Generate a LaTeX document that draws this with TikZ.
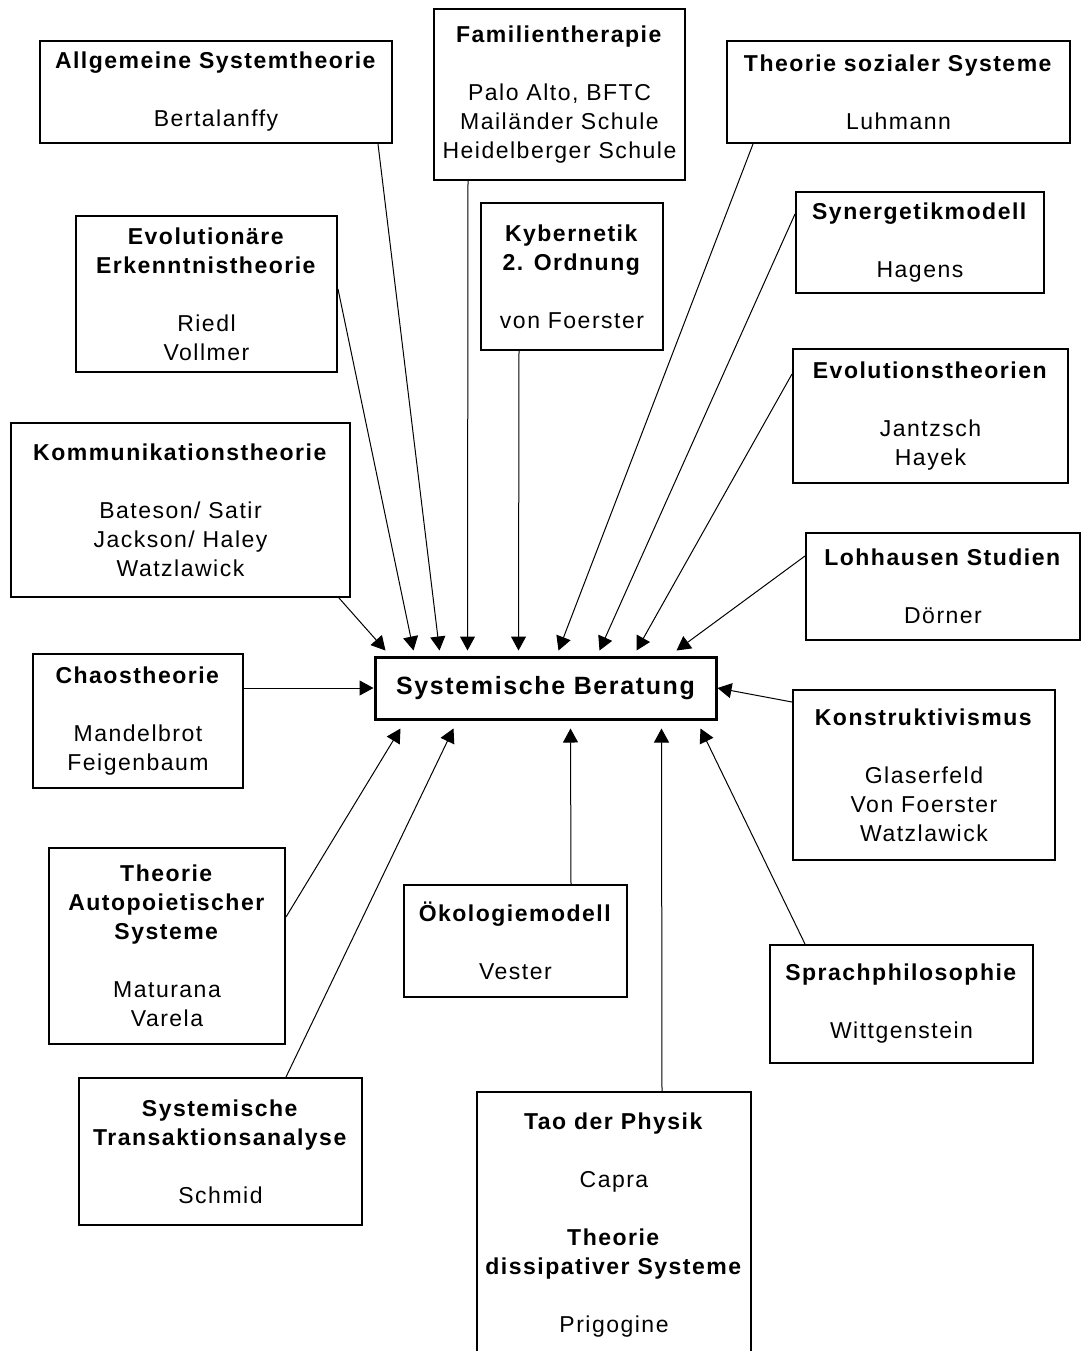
\documentclass[tikz,border=0pt]{standalone}
\usepackage{fontspec}
\setmainfont{Liberation Sans}[LetterSpace=6.5]
\usetikzlibrary{arrows.meta,calc}

\tikzset{
  kasten/.style={draw, line width=1pt, inner sep=0pt, align=center, font=\fontsize{11.5pt}{14.5pt}\selectfont},
  groesse/.style 2 args={minimum width=#1*0.5pt, minimum height=#2*0.5pt},
  mitte/.style={kasten, line width=1.5pt, font=\fontsize{12.5pt}{15pt}\selectfont\bfseries},
  pfeil/.style={line width=0.5pt, -{Triangle[length=7pt,width=7.5pt]}}
}

\begin{document}
\begin{tikzpicture}[x=0.5pt,y=-0.5pt]
\useasboundingbox (0,0) rectangle (1081,1351);

\node[mitte, groesse={341}{62}] (ber) at (545.5,688) {Systemische Beratung}; %centre

%top row
\node[kasten, groesse={352}{102}] (allg) at (216,92) {\textbf{Allgemeine Systemtheorie}\\[14.5pt]Bertalanffy};
\node[kasten, groesse={251}{171}] (fam) at (559.5,94.5) {\textbf{Familientherapie}\\[14.5pt]Palo Alto, BFTC\\Mailänder Schule\\Heidelberger Schule};
\node[kasten, groesse={343}{102}] (sozial) at (898.5,92) {\textbf{Theorie sozialer Systeme}\\[14.5pt]Luhmann};
\node[kasten, groesse={261}{156}] (evo) at (206.5,294) {\textbf{Evolutionäre}\\\textbf{Erkenntnistheorie}\\[14.5pt]Riedl\\Vollmer};
\node[kasten, groesse={182}{147}] (kyb) at (572,276.5) {\textbf{Kybernetik}\\\textbf{2. Ordnung}\\[14.5pt]von Foerster};
\node[kasten, groesse={248}{101}] (syn) at (920,242.5) {\textbf{Synergetikmodell}\\[14.5pt]Hagens};
\node[kasten, groesse={275}{134}] (evth) at (930.5,416) {\textbf{Evolutionstheorien}\\[14.5pt]Jantzsch\\Hayek};
\node[kasten, groesse={339}{174}] (komm) at (180.5,510) {\textbf{Kommunikationstheorie}\\[14.5pt]Bateson/ Satir\\Jackson/ Haley\\Watzlawick};
\node[kasten, groesse={274}{107}] (lohh) at (943,586.5) {\textbf{Lohhausen Studien}\\[14.5pt]Dörner};

%left and right
\node[kasten, groesse={210}{134}] (chaos) at (138,721) {\textbf{Chaostheorie}\\[14.5pt]Mandelbrot\\Feigenbaum};
\node[kasten, groesse={262}{170}] (konst) at (924,775) {\textbf{Konstruktivismus}\\[14.5pt]Glaserfeld\\Von Foerster\\Watzlawick};

%bottom
\node[kasten, groesse={223}{112}] (oeko) at (515.5,941) {\textbf{Ökologiemodell}\\[14.5pt]Vester};
\node[kasten, groesse={236}{196}] (auto) at (167,946) {\textbf{Theorie}\\\textbf{Autopoietischer}\\\textbf{Systeme}\\[14.5pt]Maturana\\Varela};
\node[kasten, groesse={263}{118}] (sprach) at (901.5,1004) {\textbf{Sprachphilosophie}\\[14.5pt]Wittgenstein};
\node[kasten, groesse={283}{147}] (trans) at (220.5,1151.5) {\textbf{Systemische}\\\textbf{Transaktionsanalyse}\\[14.5pt]Schmid};
\node[kasten, groesse={274}{266}] (tao) at (614,1225) {\textbf{Tao der Physik}\\[14.5pt]Capra\\[14.5pt]\textbf{Theorie}\\\textbf{dissipativer Systeme}\\[14.5pt]Prigogine};

%arrows from above
\draw[pfeil] ($(komm.south east)+(-12,0)$) -- ($(ber.north west)+(12,-5)$);
\draw[pfeil] ($(evo.north east)+(0,74)$) -- ($(ber.north west)+(40,-5)$);
\draw[pfeil] ($(allg.south east)+(-15,0)$) -- ($(ber.north west)+(66,-5)$);
\draw[pfeil] ($(fam.south west)+(35,0)$) -- ($(ber.north west)+(94,-5)$);
\draw[pfeil] ($(kyb.south west)+(39,0)$) -- ($(ber.north west)+(145,-5)$);
\draw[pfeil] ($(sozial.south west)+(27,0)$) -- ($(ber.north west)+(185,-5)$);
\draw[pfeil] ($(syn.north west)+(0,23)$) -- ($(ber.north west)+(226,-5)$);
\draw[pfeil] ($(evth.north west)+(0,26)$) -- ($(ber.north west)+(263,-5)$);
\draw[pfeil] ($(lohh.north west)+(0,24)$) -- ($(ber.north west)+(303,-5)$);

%arrows from the sides
\draw[pfeil] (chaos.east |- ber.west) -- (ber.west);
\draw[pfeil] ($(konst.north west)+(0,13)$) -- (ber.east);

%arrows from below
\draw[pfeil] ($(auto.north east)+(0,70)$) -- ($(ber.south west)+(27,8)$);
\draw[pfeil] ($(trans.north west)+(208,0)$) -- ($(ber.south west)+(80,8)$);
\draw[pfeil] ($(oeko.north west)+(168,0)$) -- ($(ber.south west)+(197,8)$);
\draw[pfeil] ($(tao.north west)+(186,0)$) -- ($(ber.south west)+(288,8)$);
\draw[pfeil] ($(sprach.north west)+(36,0)$) -- ($(ber.south west)+(327,8)$);

\end{tikzpicture}
\end{document}
